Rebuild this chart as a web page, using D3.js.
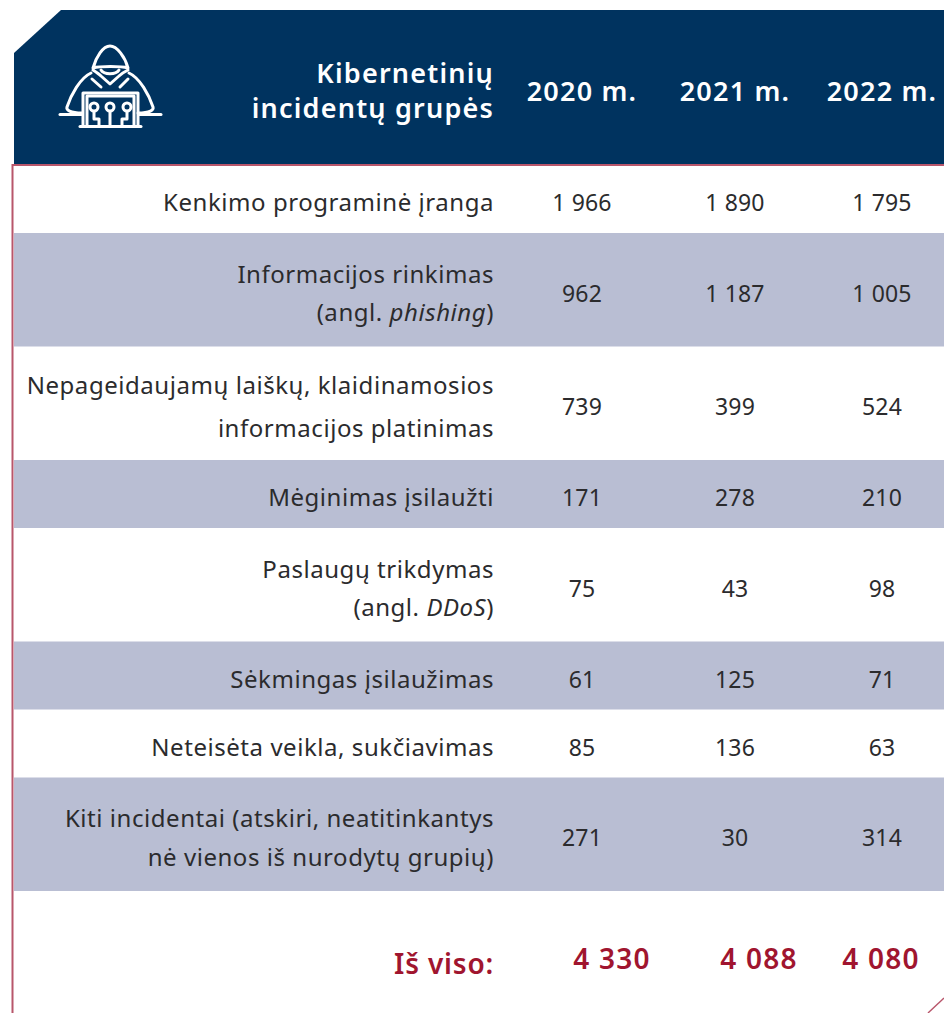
<!DOCTYPE html>
<html>
<head>
<meta charset="utf-8">
<script src="https://cdn.jsdelivr.net/npm/d3@7"></script>
<style>
    html, body { margin: 0; padding: 0; background: #fff; }
    svg { display: block; }
    text { font-family: "Noto Sans", sans-serif; }
    .row-label { font-size: 24px; fill: #2b2b2d; letter-spacing: 0.55px; }
    .cell { font-size: 23px; fill: #2b2b2d; letter-spacing: 0.15px; }
    .head { font-size: 27px; font-weight: 600; fill: #fff; letter-spacing: 1.2px; }
    .total { font-size: 28px; font-weight: 600; fill: #a0152f; letter-spacing: 1.2px; }
    .total-label { letter-spacing: 0.8px; }
</style>
</head>
<body>
<div id="table"></div>
<script>
// 1: DATA
const years = ["2020 m.", "2021 m.", "2022 m."];
const headLines = ["Kibernetinių", "incidentų grupės"];

// each label line is a list of [text, italic] pieces
const rowLabels = [
    [[["Kenkimo programinė įranga", false]]],
    [[["Informacijos rinkimas", false]], [["(angl. ", false], ["phishing", true], [")", false]]],
    [[["Nepageidaujamų laiškų, klaidinamosios", false]], [["informacijos platinimas", false]]],
    [[["Mėginimas įsilaužti", false]]],
    [[["Paslaugų trikdymas", false]], [["(angl. ", false], ["DDoS", true], [")", false]]],
    [[["Sėkmingas įsilaužimas", false]]],
    [[["Neteisėta veikla, sukčiavimas", false]]],
    [[["Kiti incidentai (atskiri, neatitinkantys", false]], [["nė vienos iš nurodytų grupių)", false]]]
];
const values2020 = [1966, 962, 739, 171, 75, 61, 85, 271];
const values2021 = [1890, 1187, 399, 278, 43, 125, 136, 30];
const values2022 = [1795, 1005, 524, 210, 98, 71, 63, 314];
const totalLabel = "Iš viso:";
const totals = [4330, 4088, 4080];

// 2: LAYOUT
const W = 944, H = 1013;
const navy = "#00335f", band = "#b9bed3", crimson = "#b8566b";
const labelRight = 494;
const headerTop = 10, headerBottom = 165, tableLeft = 14;

const svg = d3.select("#table").append("svg")
    .attr("width", W)
    .attr("height", H);

const fmt = d3.formatLocale({ thousands: "\u00a0", grouping: [3], decimal: ",", currency: ["", ""] }).format(",d");

// columns are not evenly spaced in the original
const xCol = d3.scaleOrdinal().domain(years).range([582, 735, 882]);
const xTotal = d3.scaleOrdinal().domain(years).range([612, 759, 881]);

// row heights follow the number of lines
const singleH = 68, doubleH = 113.5;
let y0 = headerBottom;
const rows = rowLabels.map((lines, i) => {
    const h = lines.length > 1 ? doubleH : singleH;
    const r = { i, lines, top: y0, h };
    y0 += h;
    return r;
});

// 3: BACKGROUND
svg.selectAll(".band")
    .data(rows.filter(d => d.i % 2 === 1))
    .enter()
    .append("rect")
    .attr("class", "band")
    .attr("x", tableLeft)
    .attr("y", d => d.top)
    .attr("width", W - tableLeft)
    .attr("height", d => d.h)
    .attr("fill", band);

// thin crimson frame
svg.append("path")
    .attr("d", `M${W},${headerBottom}H12.5V${H}`)
    .attr("fill", "none")
    .attr("stroke", crimson)
    .attr("stroke-width", 2);
svg.append("path")
    .attr("d", `M${W},998L928,${H}`)
    .attr("fill", "none")
    .attr("stroke", crimson)
    .attr("stroke-width", 1.4);

// header shape with the cut corner
svg.append("path")
    .attr("d", d3.line()([[tableLeft, 53], [61, headerTop], [W, headerTop], [W, headerBottom - 1], [tableLeft, headerBottom - 1]]) + "Z")
    .attr("fill", navy);

// 4: HACKER ICON
const icon = svg.append("g")
    .attr("fill", "none")
    .attr("stroke", "#fff")
    .attr("stroke-width", 3)
    .attr("stroke-linecap", "round")
    .attr("stroke-linejoin", "round");
[
    "M93,68C96,57 103,46 110,46C117,46 125,57 128,68C121,66 100,66 93,68Z", // hood top
    "M101,70C104,75 116,75 119,70",                                          // face
    "M93,70C96,72 99,74 101,76L110,84L119,76C121,74 124,72 128,70",          // collar
    "M91,73C80,78 71,95 67,107C66,110 70,113 82,113",                        // left shoulder
    "M129,73C140,78 149,95 153,107C154,110 150,113 138,113",                 // right shoulder
    "M92,79L101,87", "M128,79L120,87",
    "M60,114.5H82", "M139,114.5H161",
    "M80,126.5H141",
    "M83,126V93H138V126",
    "M87,126V96H134V126",
    "M94,112V119H99V126", "M110,112V126", "M127,112V119H122V126"
].forEach(d => icon.append("path").attr("d", d));
icon.selectAll("circle.node")
    .data([94, 110, 127])
    .enter()
    .append("circle")
    .attr("cx", d => d)
    .attr("cy", 107)
    .attr("r", 4);

// 5: HEADER TEXT
svg.selectAll(".head-label")
    .data(headLines)
    .enter()
    .append("text")
    .attr("class", "head head-label")
    .attr("x", labelRight)
    .attr("y", (d, i) => 83 + i * 35)
    .attr("text-anchor", "end")
    .text(d => d);

svg.selectAll(".head-year")
    .data(years)
    .enter()
    .append("text")
    .attr("class", "head head-year")
    .attr("x", d => xCol(d))
    .attr("y", 101)
    .attr("text-anchor", "middle")
    .text(d => d);

// 6: ROWS
const lineGap = i => i === 2 ? 43 : 38.5;
const labels = svg.selectAll(".row-label")
    .data(rows.flatMap(r => r.lines.map((pieces, k) => ({
        pieces,
        y: r.top + r.h / 2 + (k - (r.lines.length - 1) / 2) * lineGap(r.i) + 12
    }))))
    .enter()
    .append("text")
    .attr("class", "row-label")
    .attr("x", labelRight)
    .attr("y", d => d.y)
    .attr("text-anchor", "end");

labels.selectAll("tspan")
    .data(d => d.pieces)
    .enter()
    .append("tspan")
    .attr("font-style", d => d[1] ? "italic" : "normal")
    .text(d => d[0]);

[values2020, values2021, values2022].forEach((vals, c) => {
    svg.selectAll(".cell-" + c)
        .data(vals)
        .enter()
        .append("text")
        .attr("class", "cell cell-" + c)
        .attr("x", xCol(years[c]))
        .attr("y", (d, i) => rows[i].top + rows[i].h / 2 + 12)
        .attr("text-anchor", "middle")
        .text(d => fmt(d));
});

// 7: TOTALS
svg.append("text")
    .attr("class", "total total-label")
    .attr("x", labelRight)
    .attr("y", 974)
    .attr("text-anchor", "end")
    .text(totalLabel);

svg.selectAll(".total-value")
    .data(totals)
    .enter()
    .append("text")
    .attr("class", "total total-value")
    .attr("x", (d, i) => xTotal(years[i]))
    .attr("y", 969)
    .attr("text-anchor", "middle")
    .text(d => d3.format(",d")(d).replace(",", " "));
</script>
</body>
</html>
